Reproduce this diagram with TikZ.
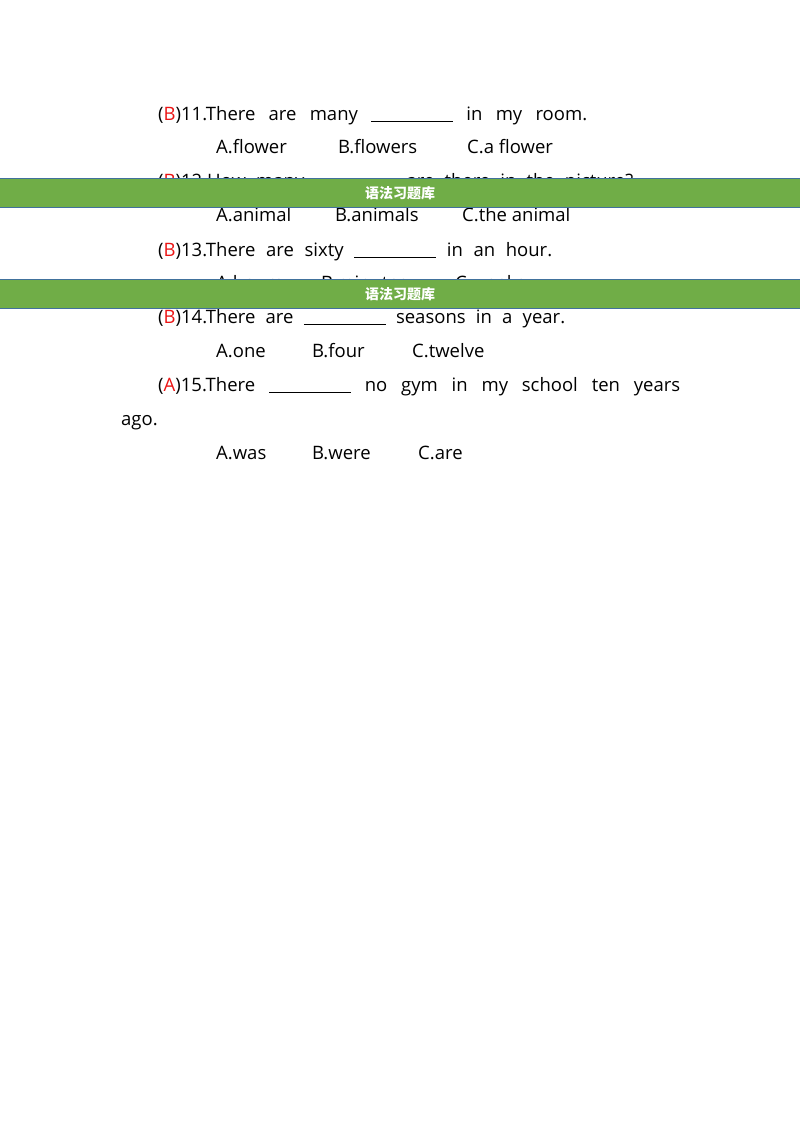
\documentclass[tikz,border=0pt]{standalone}
\usepackage{fontspec}
\setmainfont{Open Sans}
\newfontfamily\cjk{Noto Sans CJK SC}
\definecolor{ans}{RGB}{235,20,20}
\definecolor{band}{RGB}{112,173,71}
\definecolor{bandedge}{RGB}{65,113,156}
\newcommand{\blank}{\rule[-2pt]{82pt}{1.1pt}}
\newcommand{\ansr}[1]{(\textcolor{ans}{#1})}
\begin{document}
\begin{tikzpicture}[x=1pt,y=-1pt,
  txt/.style={anchor=base west,inner sep=0pt,font=\fontsize{18.5}{22}\selectfont},
  bandbox/.style={fill=band,draw=bandedge,line width=1pt},
  bandtxt/.style={text=white,font=\cjk\bfseries\fontsize{14}{16}\selectfont}]
\useasboundingbox[fill=white] (0,0) rectangle (800,1132);
\node[txt] (l11) at (158,120) {\makebox[429pt][s]{\ansr{B}11.There are many \blank{} in my room.}};
\node[txt] (o11a) at (216,153) {A.flower};
\node[txt] (o11b) at (338,153) {B.flowers};
\node[txt] (o11c) at (467,153) {C.a flower};
\node[txt] (l12) at (158,187) {\makebox[475pt][s]{\ansr{B}12.How many \blank{} are there in the picture?}};
\node[txt] (o12a) at (216,221) {A.animal};
\node[txt] (o12b) at (335,221) {B.animals};
\node[txt] (o12c) at (462,221) {C.the animal};
\node[txt] (l13) at (158,256) {\makebox[394pt][s]{\ansr{B}13.There are sixty \blank{} in an hour.}};
\node[txt] (o13a) at (216,289) {A.hours};
\node[txt] (o13b) at (321,289) {B.minutes};
\node[txt] (o13c) at (455,289) {C.weeks};
\node[txt] (l14) at (158,323) {\makebox[407pt][s]{\ansr{B}14.There are \blank{} seasons in a year.}};
\node[txt] (o14a) at (216,357) {A.one};
\node[txt] (o14b) at (312,357) {B.four};
\node[txt] (o14c) at (412,357) {C.twelve};
\node[txt] (l15) at (158,391) {\makebox[522pt][s]{\ansr{A}15.There \blank{} no gym in my school ten years}};
\node[txt] (l15b) at (121,425) {ago.};
\node[txt] (o15a) at (216,459) {A.was};
\node[txt] (o15b) at (312,459) {B.were};
\node[txt] (o15c) at (418,459) {C.are};
\draw[bandbox] (-2,178.5) rectangle (802,207);
\node[bandtxt] (b1) at (400,193) {语法习题库};
\draw[bandbox] (-2,279.5) rectangle (802,308);
\node[bandtxt] (b2) at (400,294) {语法习题库};
\end{tikzpicture}
\end{document}
